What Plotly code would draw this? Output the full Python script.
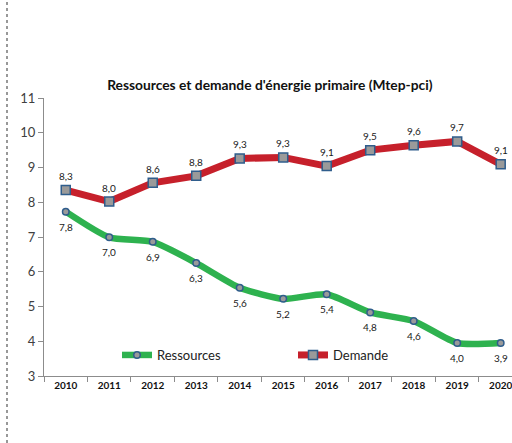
import plotly.graph_objects as go

years = ["2010", "2011", "2012", "2013", "2014", "2015", "2016", "2017", "2018", "2019", "2020"]
demande = [8.35, 8.02, 8.56, 8.76, 9.26, 9.29, 9.04, 9.50, 9.64, 9.75, 9.09]
ressources = [7.73, 6.99, 6.86, 6.25, 5.54, 5.22, 5.35, 4.83, 4.58, 3.95, 3.95]
demande_labels = ["8,3", "8,0", "8,6", "8,8", "9,3", "9,3", "9,1", "9,5", "9,6", "9,7", "9,1"]
ressources_labels = ["7,8", "7,0", "6,9", "6,3", "5,6", "5,2", "5,4", "4,8", "4,6", "4,0", "3,9"]

RED = "#c6202b"
GREEN = "#2eb24f"
MBORDER = "#2f5d8c"
MFILL = "#9a9a9a"
FONT = "Lato"

fig = go.Figure()
fig.add_trace(go.Scatter(
    x=years, y=ressources, name="Ressources", mode="lines+markers", legend="legend",
    line=dict(color=GREEN, width=6.5, shape="spline", smoothing=0.6),
    marker=dict(symbol="circle", size=6.5, color=MFILL, line=dict(color=MBORDER, width=1.5)),
))
fig.add_trace(go.Scatter(
    x=years, y=demande, name="Demande", mode="lines+markers", legend="legend2",
    line=dict(color=RED, width=7),
    marker=dict(symbol="square", size=9, color=MFILL, line=dict(color=MBORDER, width=1.5)),
))

# data labels: x given as category index so the category axis places them
label_font = dict(family=FONT, size=10, color="#1a1a1a")
for i, (y, t) in enumerate(zip(demande, demande_labels)):
    fig.add_annotation(x=i, y=y, xref="x", yref="y", text=t, showarrow=False,
                       yshift=14, font=label_font)
for i, (y, t) in enumerate(zip(ressources, ressources_labels)):
    fig.add_annotation(x=i, y=y, xref="x", yref="y", text=t, showarrow=False,
                       yshift=-15, font=label_font)

legend_common = dict(
    orientation="h", xanchor="left", yanchor="middle",
    xref="paper", yref="paper",
    bgcolor="rgba(0,0,0,0)", itemwidth=30,
    font=dict(family=FONT, size=13, color="#222222"),
)

fig.update_layout(
    width=512, height=443,
    margin=dict(l=44, r=0, t=98, b=67, autoexpand=False),
    paper_bgcolor="white", plot_bgcolor="white",
    font=dict(family=FONT, color="#404040"),
    title=dict(
        text="<b>Ressources et demande d'énergie primaire (Mtep-pci)</b>",
        font=dict(family=FONT, size=13.8, color="#111111"),
        x=0.527, xanchor="center", xref="container",
        y=1 - 85 / 443, yanchor="middle", yref="container",
    ),
    xaxis=dict(
        type="category", range=[-0.5, 10.26],
        showline=True, linecolor="#8c8c8c", linewidth=1,
        ticks="outside", ticklen=5, tickcolor="#8c8c8c", tickson="boundaries",
        showgrid=False, zeroline=False, tickangle=0,
        tickfont=dict(family=FONT, size=10, color="#111111", weight="bold"),
    ),
    yaxis=dict(
        range=[3, 11], dtick=1,
        showline=True, linecolor="#8c8c8c", linewidth=1,
        ticks="outside", ticklen=5, tickcolor="#8c8c8c",
        showgrid=False, zeroline=False,
        tickfont=dict(family=FONT, size=13, color="#404040"),
    ),
    legend=dict(legend_common, x=(117 - 44) / 468, y=(376 - 355) / 278),
    legend2=dict(legend_common, x=(293 - 44) / 468, y=(376 - 355) / 278),
    showlegend=True,
)

fig.add_shape(
    type="line", xref="paper", yref="paper",
    x0=-37 / 468, x1=-37 / 468, y0=-67 / 278, y1=1 + 98 / 278,
    line=dict(color="#777777", width=1.5, dash="dot"),
)

fig.write_html(
    "out.html",
    config={"displayModeBar": False},
    post_script="document.body.style.margin='0';document.body.style.overflow='hidden';",
)
